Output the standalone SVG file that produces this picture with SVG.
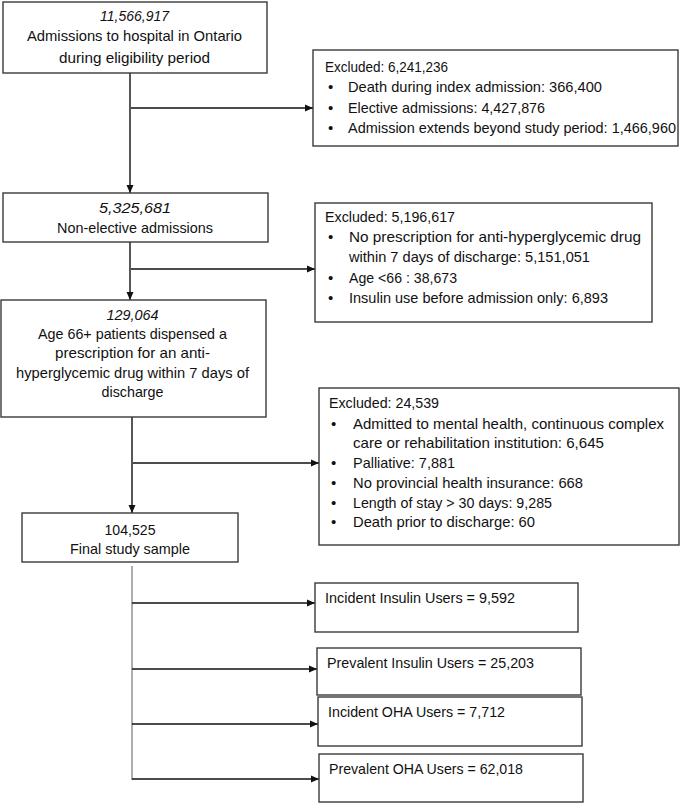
<svg xmlns="http://www.w3.org/2000/svg" width="695" height="804" viewBox="0 0 695 804">
<style>
.box{fill:#fff;stroke:#3a3a3a;stroke-width:1.4}
.t{font-family:"Liberation Sans",Arial,sans-serif;font-size:15px;fill:#111}
.c{text-anchor:middle}
.i{font-style:italic}
.ln{stroke:#111;stroke-width:1.4;fill:none}
.gl{stroke:#8a8a8a;stroke-width:1.4;fill:none}
</style>
<defs>
<marker id="ah" markerUnits="userSpaceOnUse" markerWidth="9" markerHeight="8" refX="8" refY="4" orient="auto">
<path d="M0,0.5 L8,4 L0,7.5 z" fill="#111"/>
</marker>
</defs>
<rect width="695" height="804" fill="#fff"/>
<g id="connectors">
<line class="ln" x1="130" y1="73" x2="130" y2="193" marker-end="url(#ah)"/>
<line class="ln" x1="131" y1="108" x2="313" y2="108" marker-end="url(#ah)"/>
<line class="ln" x1="130" y1="242" x2="130" y2="300" marker-end="url(#ah)"/>
<line class="ln" x1="131" y1="269" x2="315" y2="269" marker-end="url(#ah)"/>
<line class="ln" x1="132" y1="417" x2="132" y2="513" marker-end="url(#ah)"/>
<line class="ln" x1="133" y1="463" x2="319" y2="463" marker-end="url(#ah)"/>
<line class="gl" x1="132" y1="566" x2="132" y2="780"/>
<line class="ln" x1="132" y1="603" x2="315" y2="603" marker-end="url(#ah)"/>
<line class="ln" x1="132" y1="669" x2="317" y2="669" marker-end="url(#ah)"/>
<line class="ln" x1="132" y1="724" x2="318" y2="724" marker-end="url(#ah)"/>
<line class="ln" x1="132" y1="779" x2="319" y2="779" marker-end="url(#ah)"/>
</g>
<g id="admissions">
<rect class="box" x="3" y="2" width="264" height="71"/>
<text class="t c i" x="134.5" y="21" textLength="69" lengthAdjust="spacingAndGlyphs">11,566,917</text>
<text class="t c" x="134.5" y="41" textLength="215" lengthAdjust="spacingAndGlyphs">Admissions to hospital in Ontario</text>
<text class="t c" x="134.5" y="63" textLength="151" lengthAdjust="spacingAndGlyphs">during eligibility period</text>
</g>
<g id="excluded1">
<rect class="box" x="313" y="50" width="365" height="96"/>
<text class="t" x="325" y="72" textLength="123" lengthAdjust="spacingAndGlyphs">Excluded: 6,241,236</text>
<text class="t" x="328" y="92">•</text><text class="t" x="348" y="92" textLength="254" lengthAdjust="spacingAndGlyphs">Death during index admission: 366,400</text>
<text class="t" x="328" y="113">•</text><text class="t" x="348" y="113" textLength="197" lengthAdjust="spacingAndGlyphs">Elective admissions: 4,427,876</text>
<text class="t" x="328" y="133">•</text><text class="t" x="348" y="133" textLength="328" lengthAdjust="spacingAndGlyphs">Admission extends beyond study period: 1,466,960</text>
</g>
<g id="nonelective">
<rect class="box" x="3" y="193" width="265" height="49"/>
<text class="t c i" x="135" y="213" textLength="72" lengthAdjust="spacingAndGlyphs">5,325,681</text>
<text class="t c" x="135" y="233" textLength="156" lengthAdjust="spacingAndGlyphs">Non-elective admissions</text>
</g>
<g id="excluded2">
<rect class="box" x="315" y="203" width="337" height="119"/>
<text class="t" x="325" y="222" textLength="130" lengthAdjust="spacingAndGlyphs">Excluded: 5,196,617</text>
<text class="t" x="328" y="242">•</text><text class="t" x="349" y="242" textLength="292" lengthAdjust="spacingAndGlyphs">No prescription for anti-hyperglycemic drug</text>
<text class="t" x="349" y="262" textLength="241" lengthAdjust="spacingAndGlyphs">within 7 days of discharge: 5,151,051</text>
<text class="t" x="328" y="283">•</text><text class="t" x="349" y="283" textLength="108" lengthAdjust="spacingAndGlyphs">Age &lt;66 : 38,673</text>
<text class="t" x="328" y="303">•</text><text class="t" x="349" y="303" textLength="259" lengthAdjust="spacingAndGlyphs">Insulin use before admission only: 6,893</text>
</g>
<g id="age66">
<rect class="box" x="1" y="300" width="265" height="117"/>
<text class="t c i" x="132.5" y="320" textLength="52" lengthAdjust="spacingAndGlyphs">129,064</text>
<text class="t c" x="132.5" y="339" textLength="189" lengthAdjust="spacingAndGlyphs">Age 66+ patients dispensed a</text>
<text class="t c" x="132.5" y="358" textLength="155" lengthAdjust="spacingAndGlyphs">prescription for an anti-</text>
<text class="t c" x="132.5" y="378" textLength="233" lengthAdjust="spacingAndGlyphs">hyperglycemic drug within 7 days of</text>
<text class="t c" x="132.5" y="397" textLength="62" lengthAdjust="spacingAndGlyphs">discharge</text>
</g>
<g id="excluded3">
<rect class="box" x="319" y="388" width="360" height="157"/>
<text class="t" x="329" y="408" textLength="110" lengthAdjust="spacingAndGlyphs">Excluded: 24,539</text>
<text class="t" x="331" y="429">•</text><text class="t" x="353" y="429" textLength="311" lengthAdjust="spacingAndGlyphs">Admitted to mental health, continuous complex</text>
<text class="t" x="353" y="448" textLength="251" lengthAdjust="spacingAndGlyphs">care or rehabilitation institution: 6,645</text>
<text class="t" x="331" y="468">•</text><text class="t" x="353" y="468" textLength="102" lengthAdjust="spacingAndGlyphs">Palliative: 7,881</text>
<text class="t" x="331" y="488">•</text><text class="t" x="353" y="488" textLength="230" lengthAdjust="spacingAndGlyphs">No provincial health insurance: 668</text>
<text class="t" x="331" y="508">•</text><text class="t" x="353" y="508" textLength="199" lengthAdjust="spacingAndGlyphs">Length of stay &gt; 30 days: 9,285</text>
<text class="t" x="331" y="527">•</text><text class="t" x="353" y="527" textLength="182" lengthAdjust="spacingAndGlyphs">Death prior to discharge: 60</text>
</g>
<g id="final">
<rect class="box" x="22" y="513" width="216" height="49"/>
<text class="t c" x="130" y="535" textLength="51" lengthAdjust="spacingAndGlyphs">104,525</text>
<text class="t c" x="130" y="554" textLength="120" lengthAdjust="spacingAndGlyphs">Final study sample</text>
</g>
<g id="incidentInsulin">
<rect class="box" x="315" y="583" width="263" height="49"/>
<text class="t" x="325" y="603" textLength="190" lengthAdjust="spacingAndGlyphs">Incident Insulin Users = 9,592</text>
</g>
<g id="prevalentInsulin">
<rect class="box" x="317" y="648" width="264" height="47"/>
<text class="t" x="327" y="668" textLength="207" lengthAdjust="spacingAndGlyphs">Prevalent Insulin Users = 25,203</text>
</g>
<g id="incidentOHA">
<rect class="box" x="318" y="697" width="264" height="49"/>
<text class="t" x="328" y="717" textLength="177" lengthAdjust="spacingAndGlyphs">Incident OHA Users = 7,712</text>
</g>
<g id="prevalentOHA">
<rect class="box" x="319" y="754" width="264" height="48"/>
<text class="t" x="329" y="774" textLength="194" lengthAdjust="spacingAndGlyphs">Prevalent OHA Users = 62,018</text>
</g>
</svg>
